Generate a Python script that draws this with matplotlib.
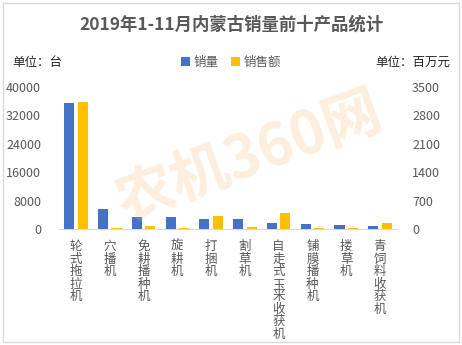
import numpy as np
import matplotlib.pyplot as plt
from matplotlib.patches import Rectangle

plt.rcParams['font.family'] = ['Noto Sans CJK SC', 'DejaVu Sans']

# datos
categorias = ['轮式拖拉机', '穴播机', '免耕播种机', '旋耕机', '打捆机',
              '割草机', '自走式玉米收获机', '铺膜播种机', '搂草机', '青饲料收获机']
ventas = [35600, 5650, 3390, 3390, 2820, 2820, 1690, 1410, 1130, 850]
importe = [3140, 33, 74, 33, 321, 49, 395, 25, 25, 148]

gris = '#595959'
fig = plt.figure(figsize=(4.62, 3.45), dpi=100)

# borde exterior
fig.patches.append(Rectangle((0.007, 0.009), 0.986, 0.982, transform=fig.transFigure,
                             fill=False, edgecolor='#D9D9D9', linewidth=1))

ax = fig.add_axes([0.128, 0.336, 0.731, 0.412])
ax2 = ax.twinx()

x = np.arange(len(categorias))
w = 0.3
ax.bar(x - 0.2, ventas, w, color='#4472C4', label='销量', zorder=3)
ax2.bar(x + 0.2, importe, w, color='#FFC000', label='销售额', zorder=3)

ax.set_xlim(-0.5, len(categorias) - 0.5)
ax.set_ylim(0, 40000)
ax2.set_ylim(0, 3500)
ax.set_yticks(np.arange(0, 40001, 8000))
ax2.set_yticks(np.arange(0, 3501, 700))

for a in (ax, ax2):
    for s in a.spines.values():
        s.set_visible(False)
    a.tick_params(length=0, labelsize=9, colors=gris)
ax.spines['bottom'].set_visible(True)
ax.spines['bottom'].set_color('#D9D9D9')
ax.tick_params(axis='y', pad=13)
ax2.tick_params(axis='y', pad=11)

ax.set_xticks(x)
ax.set_xticklabels(['\n'.join(c) for c in categorias], va='top', linespacing=0.95)
ax.tick_params(axis='x', pad=8)

# marca de agua
fig.text(0.54, 0.54, '农机360网', fontsize=42, fontweight='bold', color='#F7B26A',
         alpha=0.22, rotation=20, ha='center', va='center', family=['Noto Sans CJK SC'])

fig.text(0.5, 0.928, '2019年1-11月内蒙古销量前十产品统计', ha='center', va='center',
         fontsize=12.5, fontweight='bold', color=gris)
fig.text(0.026, 0.82, '单位：台', ha='left', va='center', fontsize=9, color='#262626')
fig.text(0.975, 0.82, '单位：百万元', ha='right', va='center', fontsize=9, color='#262626')

h1, l1 = ax.get_legend_handles_labels()
h2, l2 = ax2.get_legend_handles_labels()
fig.legend(h1 + h2, l1 + l2, loc='center', bbox_to_anchor=(0.5, 0.82), ncol=2,
           frameon=False, fontsize=9, handlelength=0.7, handleheight=0.7,
           handletextpad=0.3, columnspacing=1.0, labelcolor=gris)

fig.savefig('out.png', dpi=100)
